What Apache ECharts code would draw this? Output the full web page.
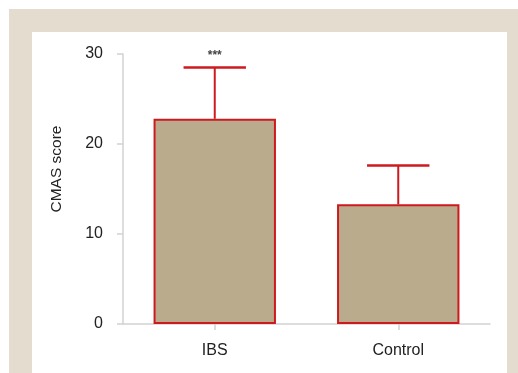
<!DOCTYPE html>
<html>
<head>
<meta charset="utf-8">
<script src="https://cdn.jsdelivr.net/npm/echarts@6/dist/echarts.min.js"></script>
<style>
  html, body { margin: 0; padding: 0; background: #ffffff; }
  #chart { width: 518px; height: 373px; }
</style>
</head>
<body>
<div id="chart"></div>
<script>
// Group means with the upper end of their error bars (CMAS score)
const categories = ['IBS', 'Control'];
const meanScores = [22.8, 13.3];
const upperErrors = [28.5, 17.6];
const significance = ['***', ''];
const yTicks = { min: 0, max: 30, step: 10 };

const chart = echarts.init(document.getElementById('chart'), null, { renderer: 'canvas' });

const fontFamily = '"Liberation Sans", Arial, Helvetica, sans-serif';
const redEdge = '#cc1a1f';

chart.setOption({
  animation: false,
  backgroundColor: '#ffffff',
  graphic: [
    // framed panel behind the plot
    { type: 'rect', z: -10, shape: { x: 9, y: 9, width: 509, height: 364 }, style: { fill: '#e5dcd0' } },
    { type: 'rect', z: -9, shape: { x: 32, y: 32, width: 475, height: 341 }, style: { fill: '#ffffff' } },
    {
      type: 'text', rotation: Math.PI / 2, x: 57, y: 169,
      style: { text: 'CMAS score', fill: '#222', font: '15.5px ' + fontFamily, textAlign: 'center', textVerticalAlign: 'middle' }
    }
  ],
  grid: { left: 123, right: 28, top: 54, bottom: 49, containLabel: false },
  xAxis: {
    type: 'category',
    data: categories,
    axisLine: { show: true, lineStyle: { color: '#d2d2d2', width: 1.5 } },
    axisTick: { show: true, alignWithLabel: true, length: 6, lineStyle: { color: '#d2d2d2', width: 1.5 } },
    axisLabel: { color: '#222', fontSize: 16, fontFamily: fontFamily, margin: 19 }
  },
  yAxis: {
    type: 'value',
    min: yTicks.min, max: yTicks.max, interval: yTicks.step,
    axisLine: { show: true, lineStyle: { color: '#d2d2d2', width: 1.5 } },
    axisTick: { show: true, length: 6, lineStyle: { color: '#d2d2d2', width: 1.5 } },
    axisLabel: { color: '#222', fontSize: 16, fontFamily: fontFamily, margin: 20 },
    splitLine: { show: false }
  },
  series: [
    {
      type: 'bar',
      data: meanScores,
      barWidth: '66.7%',
      itemStyle: { color: '#bbab8d', borderColor: redEdge, borderWidth: 2 },
      z: 2
    },
    {
      type: 'custom',
      z: 3,
      data: categories.map((c, i) => [i, meanScores[i], upperErrors[i]]),
      renderItem: function (params, api) {
        const i = api.value(0);
        const base = api.coord([i, api.value(1)]);
        const top = api.coord([i, api.value(2)]);
        const half = api.size([1, 0])[0] * 0.17;
        const children = [
          { type: 'line', shape: { x1: base[0], y1: base[1], x2: top[0], y2: top[1] }, style: { stroke: redEdge, lineWidth: 2 } },
          { type: 'line', shape: { x1: top[0] - half, y1: top[1], x2: top[0] + half, y2: top[1] }, style: { stroke: redEdge, lineWidth: 2.5 } }
        ];
        const mark = significance[params.dataIndex];
        if (mark) {
          children.push({
            type: 'text',
            style: { text: mark, x: top[0], y: top[1] - 12, textAlign: 'center', textVerticalAlign: 'middle', fill: '#444', font: 'bold 12px ' + fontFamily }
          });
        }
        return { type: 'group', children: children };
      }
    }
  ]
});
</script>
</body>
</html>
